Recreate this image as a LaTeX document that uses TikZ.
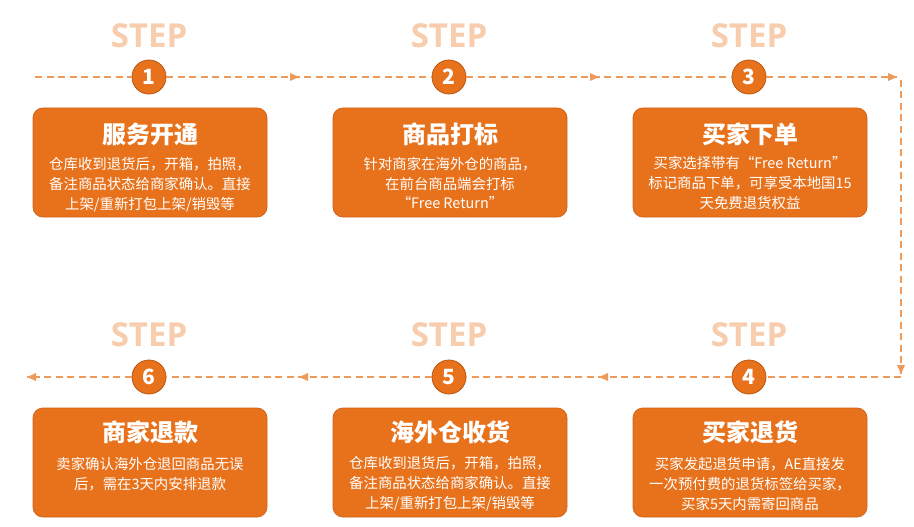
\documentclass[tikz,border=0pt]{standalone}
\usepackage{fontspec}
\setmainfont{Noto Sans CJK SC}
\newfontfamily\stepfont{Open Sans}
\usetikzlibrary{arrows.meta,decorations.markings}
\definecolor{boxor}{HTML}{E8721C}
\definecolor{boxedge}{HTML}{D4631A}
\definecolor{dashor}{HTML}{EE9A5B}
\definecolor{steplt}{HTML}{F7CDAE}
\definecolor{circedge}{HTML}{B8560F}
\tikzset{
  flow/.style={draw=dashor, line width=1.3pt, dash pattern=on 7pt off 4.5pt},
  endtip/.style={postaction={decorate}, decoration={markings, mark=at position 1 with {\fill[dashor] (0pt,0pt) -- (-9pt,4pt) -- (-9pt,-4pt) -- cycle;}}},
  midtip/.style={postaction={decorate}, decoration={markings, mark=at position 0.5 with {\fill[dashor] (0pt,0pt) -- (-9pt,4pt) -- (-9pt,-4pt) -- cycle;}}},
  stepbox/.style={rectangle, rounded corners=10pt, fill=boxor, draw=boxedge, line width=0.8pt, minimum width=234pt, minimum height=109pt, inner sep=0pt},
  numcirc/.style={circle, fill=boxor, draw=circedge, line width=0.8pt, minimum size=34pt, inner sep=0pt, text=white, font=\fontsize{21}{21}\selectfont\bfseries},
  steplabel/.style={text=steplt, font=\stepfont\fontsize{33}{33}\selectfont\bfseries, inner sep=0pt},
  boxtitle/.style={text=white, font=\fontsize{24}{26}\selectfont\bfseries, inner sep=0pt},
  boxbody/.style={text=white, font=\fontsize{14.4}{19.8}\selectfont, align=center, inner sep=0pt}
}
\begin{document}
\begin{tikzpicture}[x=1pt,y=-1pt]
\useasboundingbox (0,0) rectangle (914,527);
\fill[white] (0,0) rectangle (914,527);

% STEP labels
\node[steplabel] (s1) at (149,36) {STEP};
\node[steplabel] (s2) at (449,36) {STEP};
\node[steplabel] (s3) at (749,36) {STEP};
\node[steplabel] (s4) at (749,335) {STEP};
\node[steplabel] (s5) at (449,335) {STEP};
\node[steplabel] (s6) at (149,335) {STEP};

% circles
\node[numcirc] (c1) at (149,77) {1};
\node[numcirc] (c2) at (449,77) {2};
\node[numcirc] (c3) at (749,77) {3};
\node[numcirc] (c4) at (749,377) {4};
\node[numcirc] (c5) at (449,377) {5};
\node[numcirc] (c6) at (149,377) {6};

% boxes
\node[stepbox] (b1) at (150,162.5) {};
\node[stepbox] (b2) at (450,162.5) {};
\node[stepbox] (b3) at (750,162.5) {};
\node[stepbox] (b4) at (750,462.5) {};
\node[stepbox] (b5) at (450,462.5) {};
\node[stepbox] (b6) at (150,462.5) {};

% titles
\node[boxtitle] (t1) at (150,134) {服务开通};
\node[boxtitle] (t2) at (450,134) {商品打标};
\node[boxtitle] (t3) at (750,134) {买家下单};
\node[boxtitle] (t4) at (750,432) {买家退货};
\node[boxtitle] (t5) at (450,432) {海外仓收货};
\node[boxtitle] (t6) at (150,432) {商家退款};

% bodies
\node[boxbody] (d1) at (150,185) {仓库收到退货后，开箱，拍照，\\备注商品状态给商家确认。直接\\上架/重新打包上架/销毁等};
\node[boxbody] (d2) at (450,183) {针对商家在海外仓的商品，\\在前台商品端会打标\\“Free Return”};
\node[boxbody] (d3) at (750,183) {买家选择带有“Free Return”\\标记商品下单，可享受本地国15\\天免费退货权益};
\node[boxbody] (d4) at (750,484) {买家发起退货申请，AE直接发\\一次预付费的退货标签给买家，\\买家5天内需寄回商品};
\node[boxbody] (d5) at (450,484) {仓库收到退货后，开箱，拍照，\\备注商品状态给商家确认。直接\\上架/重新打包上架/销毁等};
\node[boxbody] (d6) at (150,474) {卖家确认海外仓退回商品无误\\后，需在3天内安排退款};

% connector path
\coordinate (start) at (35,77);
\coordinate (tr) at (897,77);
\coordinate (trv) at (901,80);
\coordinate (br) at (901,374);
\coordinate (brh) at (901,377);
\coordinate (end) at (27,377);

\draw[flow] (start) -- (c1);
\draw[flow,midtip] (c1) -- (c2);
\draw[flow,midtip] (c2) -- (c3);
\draw[flow,endtip] (c3) -- (tr);
\draw[flow,endtip] (trv) -- (br);
\draw[flow] (brh) -- (c4);
\draw[flow,midtip] (c4) -- (c5);
\draw[flow,midtip] (c5) -- (c6);
\draw[flow,endtip] (c6) -- (end);
\end{tikzpicture}
\end{document}
